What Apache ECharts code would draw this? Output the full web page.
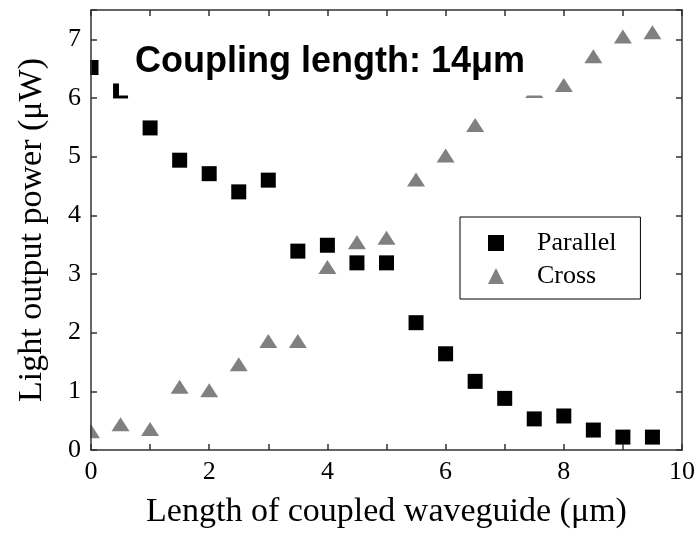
<!DOCTYPE html>
<html>
<head>
<meta charset="utf-8">
<script src="https://cdn.jsdelivr.net/npm/echarts@6/dist/echarts.min.js"></script>
<style>
  html, body { margin: 0; padding: 0; background: #fff; }
  #chart { width: 698px; height: 534px; }
</style>
</head>
<body>
<div id="chart"></div>
<script>
// waveguide length (um)
var parallelX = [0, 0.5, 1, 1.5, 2, 2.5, 3, 3.5, 4, 4.5, 5, 5.5, 6, 6.5, 7, 7.5, 8, 8.5, 9, 9.5];
var parallelY = [6.52, 6.12, 5.49, 4.94, 4.71, 4.4, 4.6, 3.39, 3.49, 3.19, 3.19, 2.17, 1.64, 1.17, 0.88, 0.53, 0.58, 0.34, 0.22, 0.22];
var crossX = [0, 0.5, 1, 1.5, 2, 2.5, 3, 3.5, 4, 4.5, 5, 5.5, 6, 6.5, 7.5, 8, 8.5, 9, 9.5];
var crossY = [0.32, 0.44, 0.36, 1.08, 1.02, 1.46, 1.86, 1.86, 3.12, 3.54, 3.62, 4.61, 5.02, 5.54, 6.12, 6.22, 6.71, 7.05, 7.12];

var serif = "'Liberation Serif', 'DejaVu Serif', serif";

function pairs(xs, ys) {
  return xs.map(function (x, i) { return [x, ys[i]]; });
}

var myChart = echarts.init(document.getElementById("chart"));

var axisLineStyle = { color: "#333", width: 1.5 };

var option = {
  animation: false,
  backgroundColor: "#fff",
  title: {
    text: "Coupling length: 14\u03bcm",
    left: 119,
    top: 37,
    backgroundColor: "#fff",
    padding: [8, 28, 15, 16],
    textStyle: {
      fontFamily: "'Liberation Sans', Arial, sans-serif",
      fontWeight: "bold",
      fontSize: 36,
      lineHeight: 35,
      color: "#000",
    },
  },
  // white mask so the marks at x = 0 get cut at the axis like the original
  graphic: [
    {
      type: "rect",
      left: 0,
      top: 0,
      shape: { width: 90, height: 534 },
      style: { fill: "#fff" },
      z: 5,
      silent: true,
    },
  ],
  legend: {
    orient: "vertical",
    left: 460,
    top: 217,
    padding: [13, 24, 10, 28],
    itemGap: 7,
    itemWidth: 16,
    itemHeight: 16,
    borderColor: "#000",
    borderWidth: 1,
    textStyle: {
      fontFamily: serif,
      fontSize: 26,
      color: "#000",
      padding: [0, 0, 0, 28],
    },
    data: [
      { name: "Parallel", icon: "rect" },
      { name: "Cross", icon: "triangle" },
    ],
  },
  grid: {
    left: 91,
    right: 11,
    top: 10,
    bottom: 82,
  },
  xAxis: [
    {
      type: "value",
      z: 10,
      min: 0,
      max: 10,
      interval: 1,
      name: "Length of coupled waveguide (\u03bcm)",
      nameLocation: "middle",
      nameGap: 45,
      nameTextStyle: { fontFamily: serif, fontSize: 34, color: "#000" },
      axisLine: { onZero: false, lineStyle: axisLineStyle },
      axisTick: { inside: true, length: 6, lineStyle: axisLineStyle },
      axisLabel: {
        margin: 9,
        fontFamily: serif,
        fontSize: 26,
        color: "#000",
        formatter: function (v) { return v % 2 === 0 ? String(v) : ""; },
      },
      splitLine: { show: false },
    },
    {
      type: "value",
      z: 10,
      position: "top",
      min: 0,
      max: 10,
      interval: 1,
      axisLine: { onZero: false, lineStyle: axisLineStyle },
      axisTick: { inside: true, length: 6, lineStyle: axisLineStyle },
      axisLabel: { show: false },
      splitLine: { show: false },
    },
  ],
  yAxis: [
    {
      type: "value",
      z: 10,
      min: 0,
      max: 7.5,
      interval: 1,
      name: "Light output power (\u03bcW)",
      nameLocation: "middle",
      nameGap: 42,
      nameTextStyle: { fontFamily: serif, fontSize: 34, color: "#000" },
      axisLine: { onZero: false, lineStyle: axisLineStyle },
      axisTick: { inside: true, length: 6, lineStyle: axisLineStyle },
      axisLabel: {
        margin: 10,
        fontFamily: serif,
        fontSize: 26,
        color: "#000",
        formatter: function (v) { return v % 1 === 0 ? String(v) : ""; },
      },
      splitLine: { show: false },
    },
    {
      type: "value",
      z: 10,
      position: "right",
      min: 0,
      max: 7.5,
      interval: 1,
      axisLine: { onZero: false, lineStyle: axisLineStyle },
      axisTick: { inside: true, length: 6, lineStyle: axisLineStyle },
      axisLabel: { show: false },
      splitLine: { show: false },
    },
  ],
  series: [
    {
      name: "Parallel",
      type: "scatter",
      symbol: "rect",
      symbolSize: [15, 15],
      itemStyle: { color: "#000", opacity: 1 },
      data: pairs(parallelX, parallelY),
    },
    {
      name: "Cross",
      type: "scatter",
      symbol: "triangle",
      symbolSize: [18, 14],
      itemStyle: { color: "#808080", opacity: 1 },
      data: pairs(crossX, crossY),
    },
  ],
};
myChart.setOption(option);
</script>
</body>
</html>
